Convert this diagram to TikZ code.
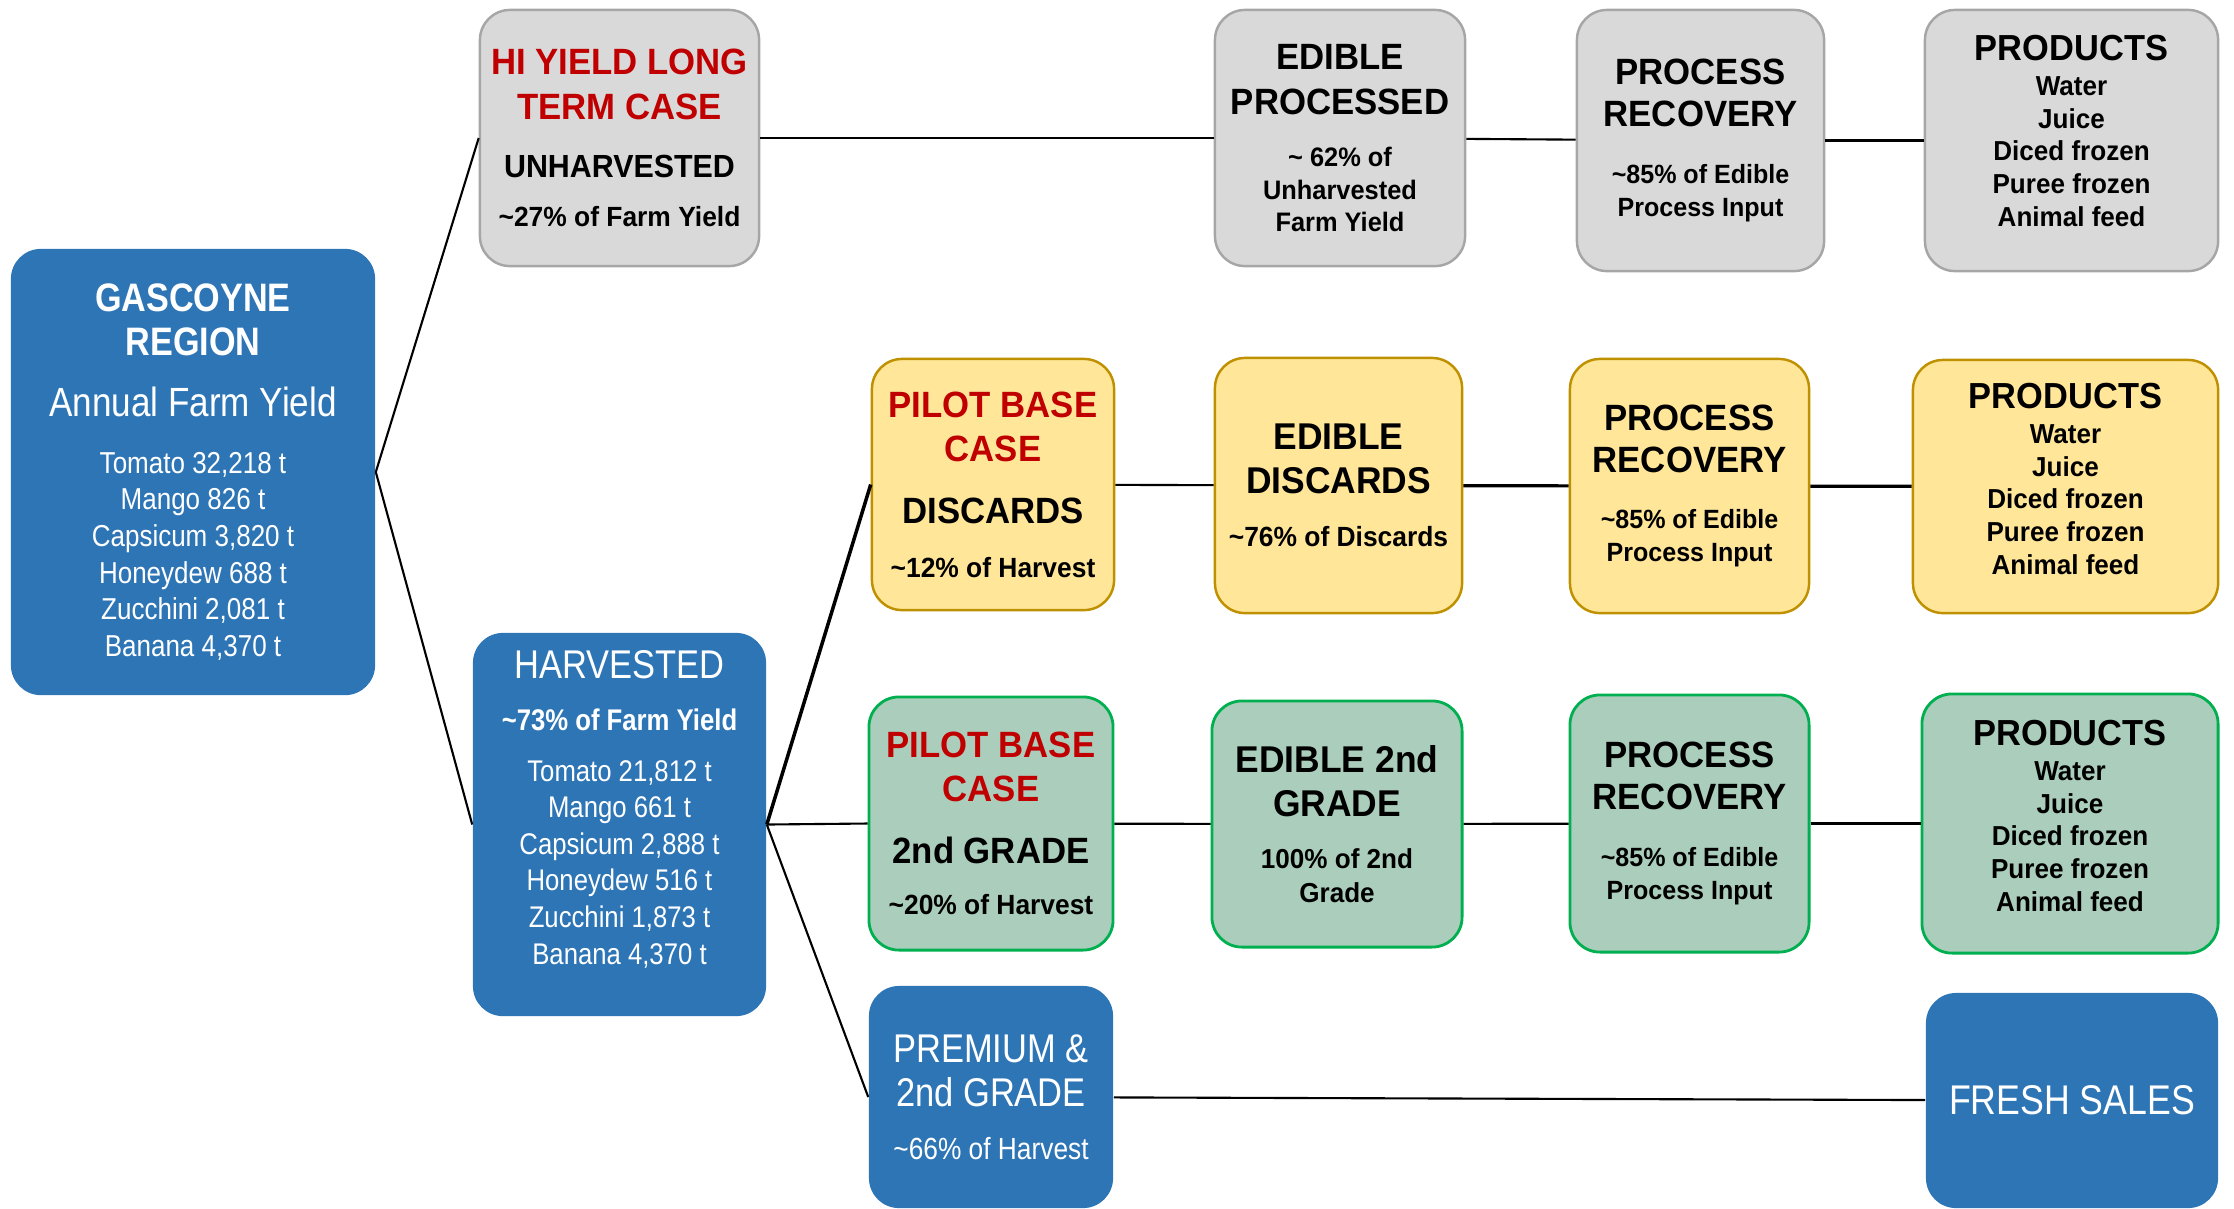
\documentclass[tikz,border=0pt]{standalone}
\usepackage{fontspec}
\setmainfont{Liberation Sans}[FakeStretch=0.95]
\newfontfamily\narrowfont{Liberation Sans}[FakeStretch=0.86]

\definecolor{boxblue}{RGB}{46,117,182}
\definecolor{boxgrey}{RGB}{217,217,217}
\definecolor{linegrey}{RGB}{166,166,166}
\definecolor{boxyellow}{RGB}{255,230,153}
\definecolor{lineyellow}{RGB}{191,144,0}
\definecolor{boxgreen}{RGB}{171,205,187}
\definecolor{linegreen}{RGB}{0,176,80}
\definecolor{casered}{RGB}{192,0,0}

\newcommand{\tightlines}{\fontsize{8}{0pt}\selectfont\lineskiplimit=-16000pt\relax}
\newcommand{\bline}[2]{{\fontsize{#1}{0pt}\selectfont\bfseries #2}}
\newcommand{\pline}[2]{{\fontsize{#1}{0pt}\selectfont #2}}
\newcommand{\redline}[2]{{\color{casered}\fontsize{#1}{0pt}\selectfont\bfseries #2}}

\begin{document}
\begin{tikzpicture}[x=0.01cm, y=-0.01cm,
  box/.style={rounded corners=0.3cm, inner sep=0pt, align=center, font=\tightlines},
  bluebox/.style={box, fill=boxblue, text=white, font=\narrowfont\tightlines},
  greybox/.style={box, fill=boxgrey, draw=linegrey, line width=0.7pt},
  yellowbox/.style={box, fill=boxyellow, draw=lineyellow, line width=0.7pt},
  greenbox/.style={box, fill=boxgreen, draw=linegreen, line width=0.8pt},
  link/.style={draw=black, line width=0.6pt}]
\useasboundingbox (0,0) rectangle (2234,1208);

\begin{scope}
\node[bluebox, minimum width=3.64cm, minimum height=4.46cm] (gascoyne) at (193,472)
  {\bline{11.3}{GASCOYNE}\\[12.5pt]\bline{11.3}{REGION}\\[17.4pt]\pline{11.6}{Annual Farm Yield}\\[16.1pt]
   \pline{8.6}{Tomato 32,218 t}\\[10.4pt]\pline{8.6}{Mango 826 t}\\[10.4pt]\pline{8.6}{Capsicum 3,820 t}\\[10.4pt]
   \pline{8.6}{Honeydew 688 t}\\[10.4pt]\pline{8.6}{Zucchini 2,081 t}\\[10.4pt]\pline{8.6}{Banana 4,370 t}};

\node[greybox, minimum width=2.79cm, minimum height=2.56cm] (hiyield) at (619.5,138)
  {\redline{10.4}{HI YIELD LONG}\\[12.7pt]\redline{10.4}{TERM CASE}\\[16.4pt]\bline{9.1}{UNHARVESTED}\\[14.1pt]
   \bline{7.9}{\textasciitilde27\% of Farm Yield}};

\node[bluebox, minimum width=2.93cm, minimum height=3.83cm] (harvested) at (619.5,824.5)
  {\pline{11.4}{HARVESTED}\\[14.7pt]\bline{8.5}{\textasciitilde73\% of Farm Yield}\\[14.4pt]
   \pline{8.5}{Tomato 21,812 t}\\[10.4pt]\pline{8.5}{Mango 661 t}\\[10.4pt]\pline{8.5}{Capsicum 2,888 t}\\[10.4pt]
   \pline{8.5}{Honeydew 516 t}\\[10.4pt]\pline{8.5}{Zucchini 1,873 t}\\[10.4pt]\pline{8.5}{Banana 4,370 t}\\[9.7pt]\mbox{}};

\node[yellowbox, minimum width=2.42cm, minimum height=2.51cm] (pilotdisc) at (993,484.5)
  {\redline{10.4}{PILOT BASE}\\[12.6pt]\redline{10.4}{CASE}\\[17.7pt]\bline{10.4}{DISCARDS}\\[15.2pt]
   \bline{7.9}{\textasciitilde12\% of Harvest}};

\node[greenbox, minimum width=2.44cm, minimum height=2.53cm] (pilotgrade) at (991,823.5)
  {\redline{10.4}{PILOT BASE}\\[12.5pt]\redline{10.4}{CASE}\\[17.6pt]\bline{10.4}{2nd GRADE}\\[14.5pt]
   \bline{7.9}{\textasciitilde20\% of Harvest}};

\node[bluebox, minimum width=2.44cm, minimum height=2.22cm] (premium) at (991,1097)
  {\pline{11.4}{PREMIUM \&}\\[12.6pt]\pline{11.4}{2nd GRADE}\\[14.9pt]\pline{8.7}{\textasciitilde66\% of Harvest}};

\node[greybox, minimum width=2.50cm, minimum height=2.56cm] (edproc) at (1340,138)
  {\bline{10.4}{EDIBLE}\\[13pt]\bline{10.4}{PROCESSED}\\[14.7pt]\bline{7.6}{\textasciitilde{} 62\% of}\\[9.3pt]
   \bline{7.6}{Unharvested}\\[9.2pt]\bline{7.6}{Farm Yield}};

\node[yellowbox, minimum width=2.47cm, minimum height=2.55cm] (eddisc) at (1338.5,485.5)
  {\bline{10.6}{EDIBLE}\\[12.3pt]\bline{10.6}{DISCARDS}\\[15.2pt]\bline{7.9}{\textasciitilde76\% of Discards}};

\node[greenbox, minimum width=2.50cm, minimum height=2.46cm] (edgrade) at (1337,824)
  {\bline{10.6}{EDIBLE 2nd}\\[12.6pt]\bline{10.6}{GRADE}\\[14.7pt]\bline{7.8}{100\% of 2nd}\\[9.5pt]\bline{7.8}{Grade}};

\node[greybox, minimum width=2.47cm, minimum height=2.61cm] (proc1) at (1700.5,140.5)
  {\bline{10.4}{PROCESS}\\[11.9pt]\bline{10.4}{RECOVERY}\\[16.1pt]\bline{7.5}{\textasciitilde85\% of Edible}\\[9.3pt]
   \bline{7.5}{Process Input}};

\node[yellowbox, minimum width=2.39cm, minimum height=2.54cm] (proc2) at (1689.5,486)
  {\bline{10.4}{PROCESS}\\[11.9pt]\bline{10.4}{RECOVERY}\\[16.1pt]\bline{7.5}{\textasciitilde85\% of Edible}\\[9.3pt]
   \bline{7.5}{Process Input}};

\node[greenbox, minimum width=2.39cm, minimum height=2.57cm] (proc3) at (1689.5,823.5)
  {\bline{10.4}{PROCESS}\\[11.9pt]\bline{10.4}{RECOVERY}\\[16.1pt]\bline{7.5}{\textasciitilde85\% of Edible}\\[9.3pt]
   \bline{7.5}{Process Input}};

\node[greybox, minimum width=2.93cm, minimum height=2.61cm] (prod1) at (2071.5,140.5)
  {\bline{10.3}{PRODUCTS}\\[10pt]\bline{7.8}{Water}\\[9.3pt]\bline{7.8}{Juice}\\[9.3pt]\bline{7.8}{Diced frozen}\\[9.3pt]
   \bline{7.8}{Puree frozen}\\[9.3pt]\bline{7.8}{Animal feed}\\[5.7pt]\mbox{}};

\node[yellowbox, minimum width=3.05cm, minimum height=2.53cm] (prod2) at (2065.5,486.5)
  {\bline{10.3}{PRODUCTS}\\[10pt]\bline{7.8}{Water}\\[9.3pt]\bline{7.8}{Juice}\\[9.3pt]\bline{7.8}{Diced frozen}\\[9.3pt]
   \bline{7.8}{Puree frozen}\\[9.3pt]\bline{7.8}{Animal feed}\\[4.5pt]\mbox{}};

\node[greenbox, minimum width=2.96cm, minimum height=2.59cm] (prod3) at (2070,823.5)
  {\bline{10.3}{PRODUCTS}\\[10pt]\bline{7.8}{Water}\\[9.3pt]\bline{7.8}{Juice}\\[9.3pt]\bline{7.8}{Diced frozen}\\[9.3pt]
   \bline{7.8}{Puree frozen}\\[9.3pt]\bline{7.8}{Animal feed}\\[4.5pt]\mbox{}};

\node[bluebox, minimum width=2.92cm, minimum height=2.15cm] (fresh) at (2072,1100.5)
  {\pline{11.8}{FRESH SALES}};
\end{scope}

\draw[link] (gascoyne.east) -- (hiyield.west);
\draw[link] (gascoyne.east) -- (harvested.west);

\draw[link] (hiyield) -- (edproc);
\draw[link] (edproc) -- (proc1);
\draw[link] (proc1) -- (prod1);

\draw[link, line width=1pt] (harvested.east) -- (pilotdisc.west);
\draw[link] (harvested.east) -- (pilotgrade.west);
\draw[link] (harvested.east) -- (premium.west);

\draw[link] (pilotdisc) -- (eddisc);
\draw[link, line width=0.9pt] (eddisc) -- (proc2);
\draw[link, line width=0.9pt] (proc2) -- (prod2);

\draw[link] (pilotgrade) -- (edgrade);
\draw[link] (edgrade) -- (proc3);
\draw[link] (proc3) -- (prod3);

\draw[link] (premium) -- (fresh);

\end{tikzpicture}
\end{document}
